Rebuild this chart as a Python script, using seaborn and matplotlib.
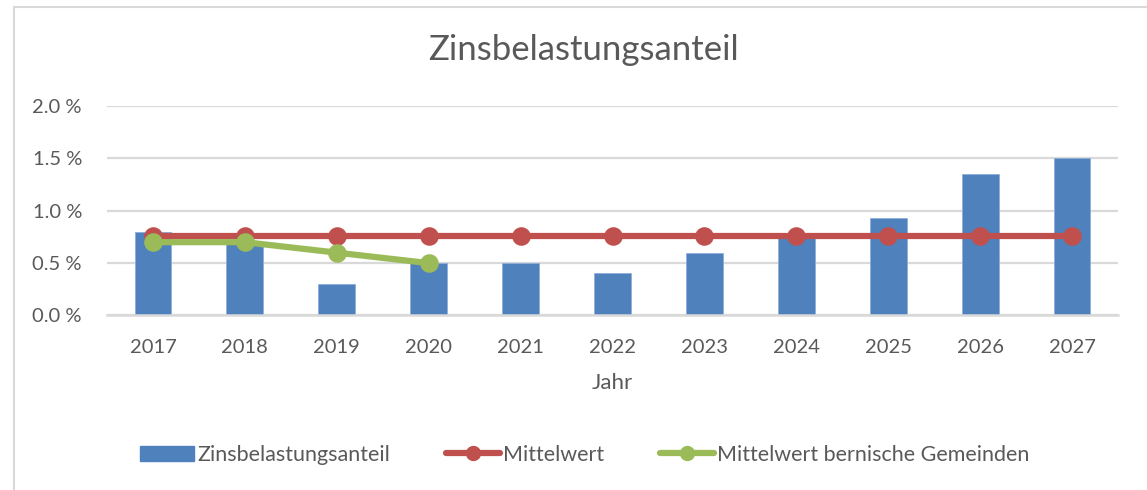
import matplotlib
matplotlib.use("Agg")
import matplotlib.pyplot as plt
from matplotlib.patches import Rectangle, Patch
from matplotlib.lines import Line2D
import seaborn as sns
import pandas as pd
import numpy as np

years = ["2017", "2018", "2019", "2020", "2021", "2022", "2023", "2024", "2025", "2026", "2027"]
zinsbelastung = [0.80, 0.70, 0.30, 0.50, 0.50, 0.41, 0.60, 0.74, 0.93, 1.35, 1.50]
mittelwert = [0.76, 0.76, 0.76, 0.76, 0.76, 0.76, 0.76, 0.76, 0.76, 0.76, 0.76]
bern_years = ["2017", "2018", "2019", "2020"]
mittelwert_bern = [0.70, 0.70, 0.60, 0.50]
yticks = [0.0, 0.5, 1.0, 1.5, 2.0]

BLUE = "#4F81BD"
RED = "#C0504D"
GREEN = "#9BBB59"
GRID = "#D9D9D9"
TXT = "#595959"

sns.set_theme(style="white")
plt.rcParams['font.family'] = ['Lato', 'DejaVu Sans']

W, H = 1147, 490
fig = plt.figure(figsize=(W / 100, H / 100), dpi=100)
ax = fig.add_axes([107 / W, 1 - 315.5 / H, (1118 - 107) / W, (315.5 - 106) / H])

df_bar = pd.DataFrame({"Jahr": years, "Wert": zinsbelastung})
df_mean = pd.DataFrame({"Jahr": years, "Wert": mittelwert})
df_bern = pd.DataFrame({"Jahr": bern_years, "Wert": mittelwert_bern})

sns.barplot(data=df_bar, x="Jahr", y="Wert", order=years, color=BLUE, width=0.4,
            saturation=1, edgecolor="#8EAEDA", linewidth=0.6, ax=ax, zorder=2)
sns.pointplot(data=df_mean, x="Jahr", y="Wert", order=years, color=RED,
              markers="o", linestyles="-", linewidth=4.5, markersize=10, ax=ax,
              errorbar=None)
sns.pointplot(data=df_bern, x="Jahr", y="Wert", order=years, color=GREEN,
              markers="o", linestyles="-", linewidth=4.5, markersize=10, ax=ax,
              errorbar=None)

ax.set_xlim(-0.5, len(years) - 0.5)
ax.set_ylim(0, 2.0)
ax.set_yticks(yticks)
ax.set_yticklabels([f"{v:.1f} %" for v in yticks])
ax.yaxis.grid(True, color=GRID, linewidth=1.6, zorder=0)
ax.set_axisbelow(True)
for s in ["top", "right", "left"]:
    ax.spines[s].set_visible(False)
ax.spines["bottom"].set_color(GRID)
ax.spines["bottom"].set_linewidth(1.8)
ax.tick_params(axis="both", length=0, labelsize=14.5, colors=TXT)
ax.tick_params(axis="y", pad=18)
ax.tick_params(axis="x", pad=17)
ax.set_ylabel("")
ax.set_xlabel("Jahr", fontsize=16, color=TXT, labelpad=12)

fig.text(583 / W, 1 - 50 / H, "Zinsbelastungsanteil", ha="center", va="center",
         fontsize=25, color=TXT)

handles = [
    Patch(facecolor=BLUE, edgecolor=BLUE),
    Line2D([0], [0], color=RED, lw=4.5, marker="o", markersize=10),
    Line2D([0], [0], color=GREEN, lw=4.5, marker="o", markersize=10),
]
labels = ["Zinsbelastungsanteil", "Mittelwert", "Mittelwert bernische Gemeinden"]
leg = fig.legend(handles, labels, loc="center", bbox_to_anchor=(585 / W, 1 - 455 / H),
                 ncol=3, frameon=False, fontsize=15.5, handlelength=2.5,
                 handletextpad=0.15, columnspacing=2.6)
for t in leg.get_texts():
    t.set_color(TXT)

fig.add_artist(Rectangle((14 / W, -0.1), 2, 1 - 7 / H + 0.1, transform=fig.transFigure,
                         fill=False, edgecolor=GRID, linewidth=1.5))

fig.savefig("out.png", dpi=100, facecolor="white")
